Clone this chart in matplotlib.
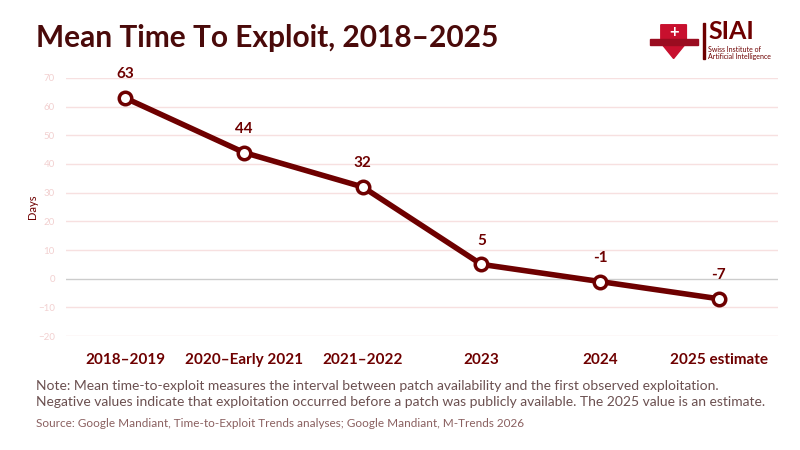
import matplotlib
matplotlib.use("Agg")
import matplotlib.pyplot as plt
from matplotlib.patches import Polygon, Rectangle

periods = ["2018–2019", "2020–Early 2021", "2021–2022", "2023", "2024", "2025 estimate"]
days = [63, 44, 32, 5, -1, -7]
yticks = [-20, -10, 0, 10, 20, 30, 40, 50, 60, 70]

dark = "#6e0000"
plt.rcParams['font.family'] = ['Lato', 'DejaVu Sans']

fig = plt.figure(figsize=(8, 4.5), dpi=100)
ax = fig.add_axes([0.0825, 0.2533, 0.89, 0.5734])
x = list(range(len(periods)))
ax.plot(x, days, color=dark, lw=4, marker="o", ms=9, mfc="white", mec=dark, mew=2.5,
        zorder=3, clip_on=False)
for xi, v in zip(x, days):
    ax.annotate(str(v), (xi, v), xytext=(0, 12), textcoords="offset points",
                ha="center", va="bottom", fontsize=11, fontweight="bold", color=dark)

ax.set_xlim(-0.5, 5.5)
ax.set_ylim(-20, 70)
ax.set_yticks(yticks)
for t in yticks:
    ax.axhline(t, color="#cccccc" if t == 0 else "#f7e0e0", lw=1, zorder=0)
ax.set_xticks(x)
ax.set_xticklabels(periods, fontsize=11, fontweight="bold", color=dark)
ax.tick_params(axis="y", labelsize=7, colors="#f2d0d0", length=0, pad=8)
ax.tick_params(axis="x", length=0, pad=12)
for s in ax.spines.values():
    s.set_visible(False)
ax.set_ylabel("Days", fontsize=8, color=dark)
ax.yaxis.set_label_coords(-0.04, 0.5)

fig.text(0.045, 0.915, "Mean Time To Exploit, 2018–2025", fontsize=21.5, fontweight="bold",
         color="#4a0a0a", va="center")
fig.text(0.045, 0.125, "Note: Mean time-to-exploit measures the interval between patch availability and the first observed exploitation.\n"
         "Negative values indicate that exploitation occurred before a patch was publicly available. The 2025 value is an estimate.",
         fontsize=10, color="#6b5050", va="center", linespacing=1.4)
fig.text(0.045, 0.058, "Source: Google Mandiant, Time-to-Exploit Trends analyses; Google Mandiant, M-Trends 2026",
         fontsize=8.5, color="#8a6060", va="center")

# logo
shield = Polygon([[0.826, 0.945], [0.858, 0.945], [0.858, 0.905], [0.842, 0.87], [0.826, 0.905]],
                 closed=True, transform=fig.transFigure, color="#c8102e")
fig.patches.append(shield)
fig.patches.append(Rectangle((0.812, 0.9), 0.06, 0.013, transform=fig.transFigure, color="#9a0c20"))
fig.text(0.842, 0.93, "+", fontsize=12, fontweight="bold", color="white", ha="center", va="center")
fig.patches.append(Rectangle((0.879, 0.87), 0.002, 0.08, transform=fig.transFigure, color=dark))
fig.text(0.885, 0.93, "SIAI", fontsize=18, fontweight="bold", color=dark, va="center")
fig.text(0.885, 0.882, "Swiss Institute of\nArtificial Intelligence", fontsize=5, color=dark,
         va="center", linespacing=1.0)

fig.savefig("out.png")
